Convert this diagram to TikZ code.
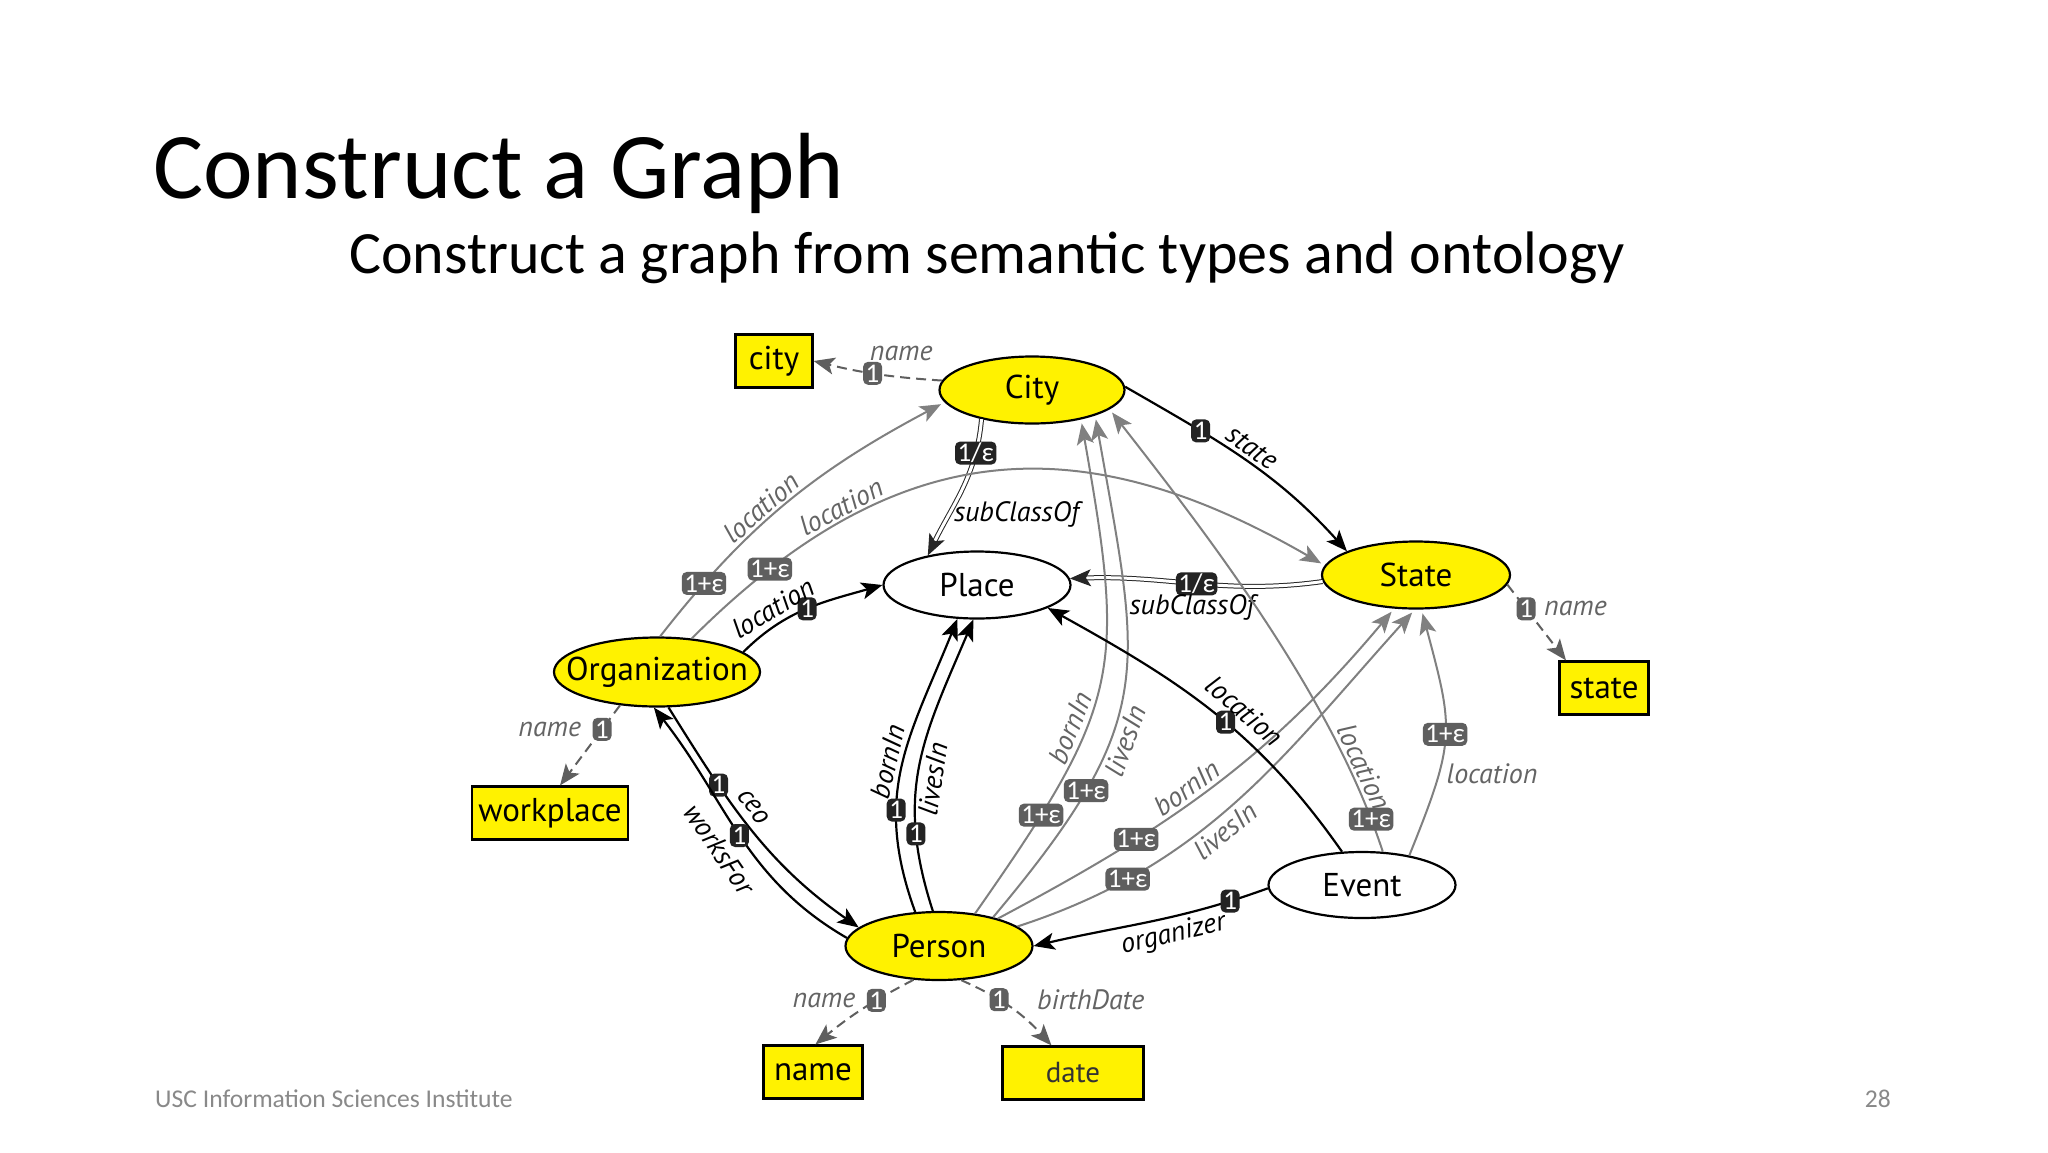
\documentclass[tikz,border=0pt]{standalone}
\usepackage{fontspec}
\setmainfont{Carlito}
\newfontfamily\diagfont{PT Sans}
\newfontfamily\badgefont{Carlito}
\usetikzlibrary{arrows.meta, shapes.geometric}

\definecolor{classyellow}{RGB}{255,242,0}
\definecolor{linkgray}{RGB}{128,128,128}
\definecolor{dashgray}{RGB}{95,95,95}
\definecolor{badgegray}{RGB}{95,95,95}
\definecolor{badgeblack}{RGB}{35,35,35}
\definecolor{labelgray}{RGB}{100,100,100}
\definecolor{footgray}{RGB}{137,137,137}

\tikzset{
  classnode/.style={ellipse, draw, line width=2.2pt, fill=classyellow,
    minimum width=187pt, minimum height=67pt, inner sep=0pt,
    font=\diagfont\fontsize{33}{36}\selectfont},
  emptyclass/.style={classnode, fill=white},
  valuebox/.style={draw, line width=2.2pt, fill=classyellow, minimum height=53pt,
    inner xsep=4pt, font=\diagfont\fontsize{33}{36}\selectfont}
}
\tikzset{
  objlink/.style={line width=2.2pt, ->},
  weaklink/.style={line width=2pt, linkgray, shorten >=4pt, ->},
  datalink/.style={line width=2pt, dashgray, dash pattern=on 10pt off 6pt, ->},
  subclslink/.style={double=white, double distance=3pt, line width=1pt, draw=black!85, ->}
}
\tikzset{
  blackbadge/.style={rectangle, rounded corners=5pt, fill=badgeblack, text=white,
    inner xsep=2.5pt, inner ysep=1pt, minimum height=23pt, minimum width=19pt,
    font=\badgefont\fontsize{27}{27}\selectfont},
  graybadge/.style={blackbadge, fill=badgegray},
  linklabel/.style={inner sep=1pt, text=black, font=\diagfont\itshape\fontsize{28}{30}\selectfont},
  graylabel/.style={linklabel, text=labelgray}
}

\begin{document}
\begin{tikzpicture}[x=1pt, y=1pt, >={Stealth[length=21pt,width=17pt,inset=5pt]}]
  \useasboundingbox[fill=white] (0,0) rectangle (2048,-1152);

  % slide texts
  \node[anchor=base west, inner sep=0pt, font=\fontsize{94}{100}\selectfont] (title) at (153,-198) {Construct a Graph};
  \node[anchor=base west, inner sep=0pt, font=\fontsize{60}{64}\selectfont] (subtitle) at (349,-273) {Construct a graph from semantic types and ontology};
  \node[anchor=base west, inner sep=0pt, text=footgray, font=\fontsize{25.6}{28}\selectfont] (footer) at (155,-1107) {USC Information Sciences Institute};
  \node[anchor=base east, inner sep=0pt, text=footgray, font=\fontsize{25.6}{28}\selectfont] (pagenum) at (1891,-1107) {28};

  % classes
  \node[classnode, minimum width=185pt] (City) at (1032,-390) {City};
  \node[emptyclass] (Place) at (977,-585) {Place};
  \node[classnode, minimum width=188pt] (State) at (1416,-575) {State};
  \node[classnode, minimum width=206pt, minimum height=69pt, inner xsep=-20pt] (Org) at (657,-672) {Organization};
  \node[classnode, minimum height=68pt] (Person) at (939,-946) {Person};
  \node[emptyclass, minimum height=66pt] (Event) at (1362,-885) {Event};

  % semantic types
  \node[valuebox, minimum width=77pt] (citybox) at (774,-361) {city};
  \node[valuebox, minimum width=89pt] (statebox) at (1604,-688) {state};
  \node[valuebox, minimum width=156pt] (workbox) at (550,-813) {workplace};
  \node[valuebox, minimum width=99pt] (namebox) at (813,-1072) {name};
  \node[valuebox, minimum width=141pt, text=black!80, font=\diagfont\fontsize{29}{32}\selectfont] (datebox) at (1073,-1073) {date};

  % City links
  \draw[datalink] (City.174) to[bend left=5] node[pos=0.54, graybadge] (b1) {1} node[pos=0.3, above=14pt, graylabel] (l1) {name} (citybox.east);
  \draw[objlink] (City.2) to[out=-30, in=132] node[pos=0.3, blackbadge] (b2) {1} node[pos=0.5, sloped, above=3pt, linklabel] (l2) {state} (State.161);
  \draw[subclslink] (City.210) to[out=-95, in=64] node[pos=0.22, blackbadge] (b3) {1/ε} node[pos=0.7, right=3pt, linklabel] (l3) {subClassOf} (Place.149);

  % State links
  \draw[subclslink] (State.184) to[out=188, in=2] node[pos=0.5, blackbadge] (b4) {1/ε} node[pos=0.52, below=10pt, linklabel] (l4) {subClassOf} (Place.4);
  \draw[datalink] (State.-6) -- node[pos=0.32, graybadge] (b5) {1} node[pos=0.32, right=16pt, graylabel] (l5) {name} (statebox.144);

  % Organization links
  \draw[weaklink] (Org.85) to[out=52, in=208] node[pos=0.17, graybadge] (b6) {1+ε} node[pos=0.43, sloped, above=1pt, graylabel] (l6) {location} (City.188);
  \draw[weaklink] (Org.44) to[out=45, in=150, looseness=1.15] node[pos=0.13, graybadge] (b7) {1+ε} node[pos=0.26, sloped, above=1pt, graylabel] (l7) {location} (State.174);
  \draw[objlink] (Org.13) to[out=45, in=196] node[pos=0.5, blackbadge] (b8) {1} node[pos=0.3, sloped, above=4pt, linklabel] (l8) {location} (Place.west);
  \draw[datalink] (Org.222) -- node[pos=0.3, graybadge] (b9) {1} node[pos=0.3, left=19pt, graylabel] (l9) {name} (workbox.70);
  \draw[objlink] (Org.-72) to[out=-58, in=145] node[pos=0.3, blackbadge] (b10) {1} node[pos=0.44, sloped, above=6pt, linklabel] (l10) {ceo} (Person.167);

  % Person links
  \draw[objlink] (Person.175) to[out=150, in=-52] node[pos=0.5, blackbadge] (b11) {1} node[pos=0.5, sloped, below=12pt, linklabel] (l11) {worksFor} (Org.-95);
  \draw[objlink] (Person.125) to[out=110, in=248, looseness=1.1] node[pos=0.33, blackbadge] (b12) {1} node[pos=0.5, sloped, above=3pt, linklabel] (l12) {bornIn} (Place.240);
  \draw[objlink] (Person.100) to[out=108, in=247, looseness=1.1] node[pos=0.24, blackbadge] (b13) {1} node[pos=0.45, sloped, below=3pt, linklabel] (l13) {livesIn} (Place.264);
  \draw[weaklink] (Person.42) to[out=55, in=-80, looseness=1.3] node[pos=0.18, graybadge] (b14) {1+ε} node[pos=0.37, sloped, above=3pt, graylabel] (l14) {bornIn} (City.-31);
  \draw[weaklink] (Person.28) to[out=50, in=-80, looseness=1.3] node[pos=0.25, graybadge] (b15) {1+ε} node[pos=0.38, sloped, below=2pt, graylabel] (l15) {livesIn} (City.-22);
  \draw[weaklink] (Person.25) to[out=28, in=230] node[pos=0.3, graybadge] (b16) {1+ε} node[pos=0.45, sloped, above=2pt, graylabel] (l16) {bornIn} (State.237);
  \draw[weaklink] (Person.14) to[out=18, in=228] node[pos=0.22, graybadge] (b17) {1+ε} node[pos=0.44, sloped, below=3pt, graylabel] (l17) {livesIn} (State.268);
  \draw[datalink] (Person.233) to[bend right=6] node[pos=0.35, graybadge] (b22) {1} node[pos=0.35, left=19pt, graylabel] (l22) {name} (namebox.85);
  \draw[datalink] (Person.-57) to[bend left=12] node[pos=0.37, graybadge] (b23) {1} node[pos=0.37, right=36pt, graylabel] (l23) {birthDate} (datebox.128);

  % Event links
  \draw[objlink] (Event.121) to[out=125, in=-29] node[pos=0.45, blackbadge] (b18) {1} node[pos=0.43, sloped, above=9pt, linklabel] (l18) {location} (Place.-18);
  \draw[weaklink] (Event.58) to[out=108, in=-52, looseness=0.8] node[pos=0.07, graybadge] (b19) {1+ε} node[pos=0.17, sloped, above=2pt, graylabel] (l19) {location} (City.-14);
  \draw[weaklink] (Event.32) to[out=68, in=-75, looseness=1.3] node[pos=0.5, graybadge] (b20) {1+ε} node[pos=0.3, right=6pt, graylabel] (l20) {location} (State.279);
  \draw[objlink] (Event.182) to[out=200, in=13] node[pos=0.15, blackbadge] (b21) {1} node[pos=0.42, sloped, below=3pt, linklabel] (l21) {organizer} (Person.east);
\end{tikzpicture}
\end{document}
